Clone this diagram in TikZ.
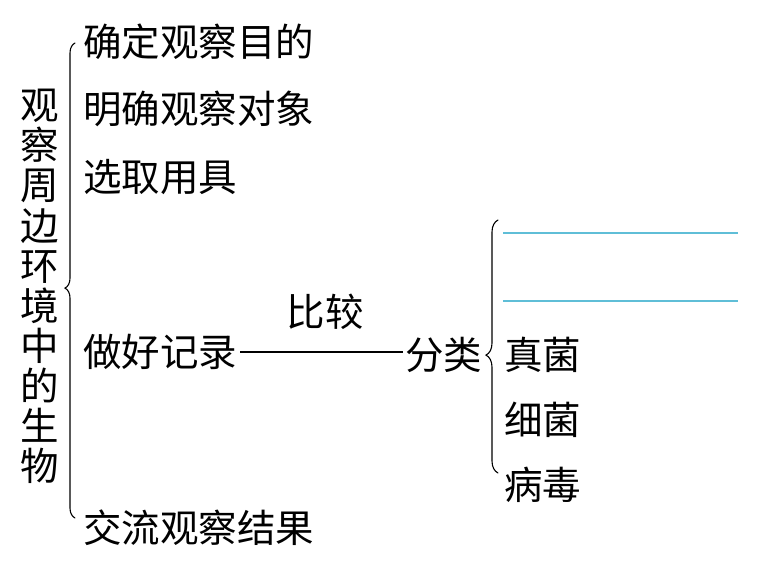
\documentclass[tikz,border=0pt]{standalone}
\usepackage{fontspec}
\setmainfont{Noto Sans CJK SC}
\usetikzlibrary{positioning,decorations.pathreplacing}
\definecolor{blankblue}{RGB}{95,190,215}

\begin{document}
\begin{tikzpicture}[x=1pt,y=-1pt,font=\fontsize{38.5}{40.1}\selectfont,
  txt/.style={inner sep=0pt,anchor=west},
  brc/.style={decorate,line width=1.1pt,line cap=round},
  blank/.style={draw=blankblue,line width=1.1pt}]
  \useasboundingbox (0,0) rectangle (763,571);
  % left column
  \node[inner sep=0pt,align=center] (title) at (40,286.5) {观\\察\\周\\边\\环\\境\\中\\的\\生\\物};
  \node[txt] (goal) at (83,42) {确定观察目的};
  \node[txt] (obj) at (83,109) {明确观察对象};
  \node[txt] (tool) at (83,177) {选取用具};
  \node[txt] (rec) at (83,352) {做好记录};
  \node[txt] (share) at (83,528) {交流观察结果};
  % classification
  \node[inner sep=0pt] (cmp) at (325,312) {比较};
  \node[txt] (cls) at (405,355) {分类};
  \node[txt] (fungi) at (504,355) {真菌};
  \node[txt] (bact) at (504,420) {细菌};
  \node[txt] (virus) at (504,485) {病毒};
  \coordinate (lbot) at (75,518); \coordinate (ltop) at (75,43);
  \coordinate (rbot) at (498,473); \coordinate (rtop) at (498,220);
  \coordinate (b1s) at (503,233); \coordinate (b1e) at (738,233);
  \coordinate (b2s) at (503,301); \coordinate (b2e) at (738,301);
  \draw[brc,decoration={brace,amplitude=10pt,aspect=0.484}] (lbot) -- (ltop);
  \draw[brc,decoration={brace,amplitude=12pt,aspect=0.466}] (rbot) -- (rtop);
  \draw[line width=1.1pt] ([xshift=3pt]rec.east) -- ([xshift=-2pt]rec.east -| cls.west);
  \draw[blank] (b1s) -- (b1e);
  \draw[blank] (b2s) -- (b2e);
\end{tikzpicture}
\end{document}
